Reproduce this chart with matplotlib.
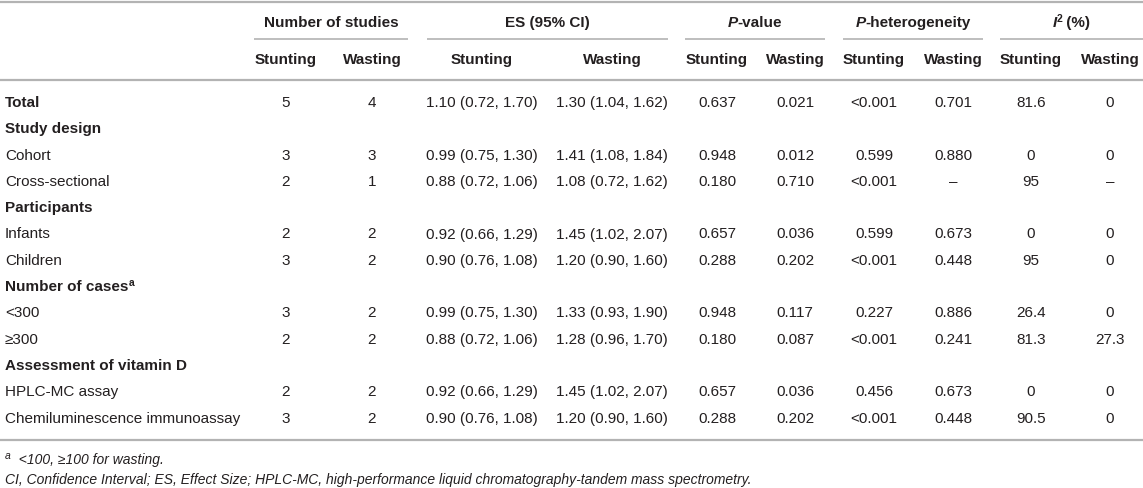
import matplotlib
matplotlib.use("Agg")
import matplotlib.pyplot as plt

plt.rcParams['font.family'] = ['Liberation Sans', 'DejaVu Sans']

# table content
row_labels = ["Total", "Study design", "Cohort", "Cross-sectional", "Participants",
              "Infants", "Children", "Number of cases", "<300", "≥300",
              "Assessment of vitamin D", "HPLC-MC assay", "Chemiluminescence immunoassay"]
bold_rows = ["Total", "Study design", "Participants", "Number of cases", "Assessment of vitamin D"]

n_stunting = ["5", "", "3", "2", "", "2", "3", "", "3", "2", "", "2", "3"]
n_wasting = ["4", "", "3", "1", "", "2", "2", "", "2", "2", "", "2", "2"]
es_stunting = ["1.10 (0.72, 1.70)", "", "0.99 (0.75, 1.30)", "0.88 (0.72, 1.06)", "",
               "0.92 (0.66, 1.29)", "0.90 (0.76, 1.08)", "", "0.99 (0.75, 1.30)",
               "0.88 (0.72, 1.06)", "", "0.92 (0.66, 1.29)", "0.90 (0.76, 1.08)"]
es_wasting = ["1.30 (1.04, 1.62)", "", "1.41 (1.08, 1.84)", "1.08 (0.72, 1.62)", "",
              "1.45 (1.02, 2.07)", "1.20 (0.90, 1.60)", "", "1.33 (0.93, 1.90)",
              "1.28 (0.96, 1.70)", "", "1.45 (1.02, 2.07)", "1.20 (0.90, 1.60)"]
p_stunting = ["0.637", "", "0.948", "0.180", "", "0.657", "0.288", "", "0.948", "0.180", "", "0.657", "0.288"]
p_wasting = ["0.021", "", "0.012", "0.710", "", "0.036", "0.202", "", "0.117", "0.087", "", "0.036", "0.202"]
ph_stunting = ["<0.001", "", "0.599", "<0.001", "", "0.599", "<0.001", "", "0.227", "<0.001", "", "0.456", "<0.001"]
ph_wasting = ["0.701", "", "0.880", "–", "", "0.673", "0.448", "", "0.886", "0.241", "", "0.673", "0.448"]
i2_stunting = ["81.6", "", "0", "95", "", "0", "95", "", "26.4", "81.3", "", "0", "90.5"]
i2_wasting = ["0", "", "0", "–", "", "0", "0", "", "0", "27.3", "", "0", "0"]

sub_labels = ["Stunting", "Wasting"]
footnote_a = "<100, ≥100 for wasting."
footnote_abbr = "CI, Confidence Interval; ES, Effect Size; HPLC-MC, high-performance liquid chromatography-tandem mass spectrometry."

columns = [n_stunting, n_wasting, es_stunting, es_wasting, p_stunting, p_wasting,
           ph_stunting, ph_wasting, i2_stunting, i2_wasting]

# layout (pixels)
W, H = 1143, 489
col_x = [286, 372, 482, 612, 717, 795, 874, 953, 1031, 1110]
groups = [(254, 408), (427, 668), (685, 825), (843, 983), (1000, 1143)]
y_head1, y_uline, y_head2, y_hline = 23, 40, 60, 81
y_row0, dy = 103, 26.3
y_bottom = 441
fs = 11
txt_col = "#231f20"
line_col = "#b3b3b3"

fig = plt.figure(figsize=(W / 100, H / 100), dpi=100)
ax = fig.add_axes([0, 0, 1, 1])
ax.set_xlim(0, W)
ax.set_ylim(H, 0)
ax.axis("off")
renderer = fig.canvas.get_renderer()


def runs_text(x, y, runs, ha="center"):
    # draw several styled pieces side by side
    objs = []
    for s, kw in runs:
        kw = dict(kw)
        off = kw.pop("dy", 0)
        k = dict(fontsize=fs, color=txt_col, va="center", ha="left")
        k.update(kw)
        objs.append(ax.text(0, y + off, s, **k))
    widths = [t.get_window_extent(renderer).width for t in objs]
    start = x - sum(widths) / 2 if ha == "center" else x
    for t, w in zip(objs, widths):
        t.set_x(start)
        start += w
    return objs


# rules
for yy in (3, y_hline, y_bottom):
    ax.plot([0, W], [yy, yy], color=line_col, lw=1.6, solid_capstyle="butt")
for a, b in groups:
    ax.plot([a, b], [y_uline, y_uline], color=line_col, lw=1.2, solid_capstyle="butt")

# group headers
gc = [(a + b) / 2 for a, b in groups]
ax.text(gc[0], y_head1, "Number of studies", fontsize=fs, fontweight="bold", color=txt_col, ha="center", va="center")
ax.text(gc[1], y_head1, "ES (95% CI)", fontsize=fs, fontweight="bold", color=txt_col, ha="center", va="center")
runs_text(gc[2], y_head1, [("P", dict(fontweight="bold", fontstyle="italic")),
                           ("-value", dict(fontweight="bold"))])
runs_text(gc[3], y_head1, [("P", dict(fontweight="bold", fontstyle="italic")),
                           ("-heterogeneity", dict(fontweight="bold"))])
runs_text(gc[4], y_head1, [("I", dict(fontweight="bold", fontstyle="italic")),
                           ("2", dict(fontweight="bold", fontsize=7.5, dy=-4)),
                           (" (%)", dict(fontweight="bold"))])

for i, x in enumerate(col_x):
    ax.text(x, y_head2, sub_labels[i % 2], fontsize=fs, fontweight="bold",
            color=txt_col, ha="center", va="center")

# body rows
for r, lab in enumerate(row_labels):
    y = y_row0 + r * dy
    if lab == "Number of cases":
        runs_text(5, y, [(lab, dict(fontweight="bold")),
                         ("a", dict(fontweight="bold", fontsize=7.5, dy=-4))], ha="left")
    elif lab in bold_rows:
        ax.text(5, y, lab, fontsize=fs, fontweight="bold", color=txt_col, ha="left", va="center")
    else:
        ax.text(5, y, lab, fontsize=fs, color=txt_col, ha="left", va="center")
    for x, col in zip(col_x, columns):
        if col[r]:
            ax.text(x, y, col[r], fontsize=fs, color=txt_col, ha="center", va="center")

# footnotes
runs_text(5, 460, [("a", dict(fontsize=7.5, fontstyle="italic", dy=-4)),
                   ("  " + footnote_a, dict(fontsize=10, fontstyle="italic"))], ha="left")
ax.text(5, 480, footnote_abbr, fontsize=10, fontstyle="italic", color=txt_col, ha="left", va="center")

fig.savefig("out.png", dpi=100)
